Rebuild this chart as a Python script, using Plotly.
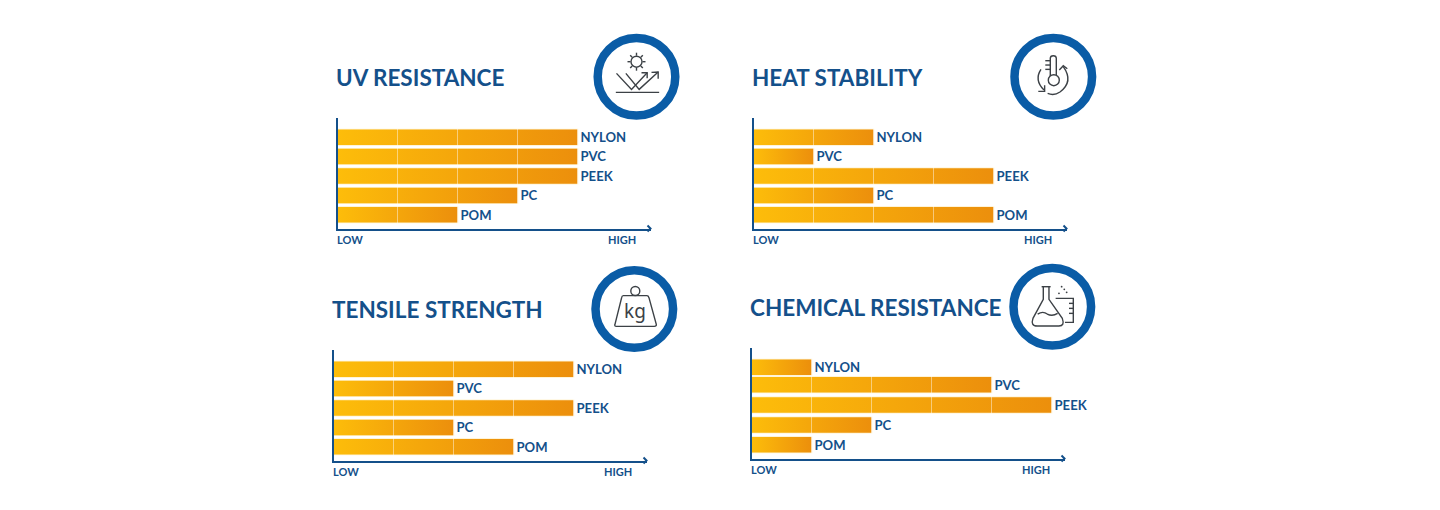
import re
import plotly.graph_objects as go

W, H = 1440, 510

# Values (1 unit = one segment between LOW and HIGH)
materials = ['NYLON', 'PVC', 'PEEK', 'PC', 'POM']
uv_resistance = [4, 4, 4, 3, 2]
heat_stability = [2, 1, 4, 2, 4]
tensile_strength = [4, 2, 4, 2, 3]
chemical_resistance = [1, 4, 5, 2, 1]
titles = ['UV RESISTANCE', 'HEAT STABILITY', 'TENSILE STRENGTH', 'CHEMICAL RESISTANCE']
axis_low = 'LOW'
axis_high = 'HIGH'

BLUE = '#14508A'
RING = '#0A5CA6'
ICON = '#3C4146'
FONT = 'Lato'

# Row spacing differs a little in the chemical panel
even_rows = [0, 1, 2, 3, 4]
chemical_rows = [0, 0.91, 1.95, 2.98, 4]

# Panel placement in pixels: axis origin x, baseline y, ring centre
panels = [
    dict(values=uv_resistance, rows=even_rows, x0=337.5, base=228.5, ring=(636.5, 76.7), title_y=77.5),
    dict(values=heat_stability, rows=even_rows, x0=753.5, base=228.5, ring=(1053.3, 76.7), title_y=77.5),
    dict(values=tensile_strength, rows=even_rows, x0=333.5, base=460.5, ring=(634.3, 309), title_y=309.5),
    dict(values=chemical_resistance, rows=chemical_rows, x0=751.5, base=458.5, ring=(1052.3, 306.7), title_y=307),
]

UNIT_PX = 60
PITCH_PX = 19.4
AXIS_W = 313
AXIS_H = 111


def px(x):
    return x / W


def py(y):
    return 1 - y / H


def icon_path(cx, cy, d):
    # d is written in units of a 3x zoom around the ring centre
    out = []
    for token in re.findall(r'[MLQCZ]|-?[\d.]+', d):
        if token.isalpha():
            out.append(token)
            k = 0
        else:
            val = float(token) / 3
            out.append(f'{px(cx + val):.5f}' if k % 2 == 0 else f'{py(cy + val):.5f}')
            k += 1
    return ' '.join(out)


def circle(cx, cy, r):
    return dict(type='circle', xref='paper', yref='paper', x0=px(cx - r), x1=px(cx + r),
                y0=py(cy + r), y1=py(cy - r))


icons = [
    # sun and reflected rays
    ['M -60 -10 L -15 38 L 32 -12', 'M -32 -10 L 8 38 L 65 -14', 'M 45 -13 L 65 -14 L 65 6',
     'M 15 -12 L 32 -12 L 32 5', 'M -62 47 L 68 47',
     'M 0 -72 L 0 -63', 'M 0 -27 L 0 -18', 'M -27 -45 L -18 -45', 'M 18 -45 L 27 -45',
     'M -19 -64 L -13 -58', 'M 13 -32 L 19 -26', 'M 19 -64 L 13 -58', 'M -13 -32 L -19 -26'],
    # thermometer with circular arrows
    ['M -9 0 L -9 -55 Q -9 -63 0 -63 Q 9 -63 9 -55 L 9 0',
     'M -24 -48 L -9 -48', 'M -24 -35 L -9 -35', 'M -24 -22 L -9 -22',
     'M -37 -22 Q -58 10 -28 40', 'M -45 44 L -26 44 L -26 26',
     'M 30 -30 Q 62 15 20 46 Q 2 58 -17 50', 'M 18 -20 L 30 -33 L 42 -24'],
    # weight
    ['M -33 -40 L 38 -40 Q 42 -40 44 -34 L 66 46 Q 67 52 60 52 L -54 52 Q -60 52 -58 46 L -38 -34 Q -37 -40 -33 -40 Z'],
    # flask and beaker
    ['M -32 -60 L -5 -60', 'M -27 -60 L -27 -22 L -58 35 Q -66 58 -45 58 L 20 58 Q 38 58 30 35 L -10 -22 L -10 -60',
     'M -44 22 Q -28 12 -15 22 Q 0 30 16 20',
     'M 10 -25 L 63 -25 L 63 47 L 38 47', 'M 50 -10 L 63 -10', 'M 50 5 L 63 5', 'M 50 20 L 63 20'],
]
icon_dots = [
    [], [],
    [],
    [(28, -60), (43, -43), (20, -40), (36, -52)],
]

data = []
annotations = []
shapes = []

for n, p in enumerate(panels, start=1):
    xname = 'x' if n == 1 else f'x{n}'
    yname = 'y' if n == 1 else f'y{n}'
    values = p['values']
    rows = p['rows']

    data.append(go.Bar(
        x=values, y=rows, orientation='h',
        xaxis=xname, yaxis=yname, width=0.8,
        marker=dict(color='#F6A908', line=dict(color='#FFF1CC', width=1.5)),
        text=materials, textposition='outside', cliponaxis=False,
        textfont=dict(family=FONT, size=13.5, color=BLUE, weight=700),
        hoverinfo='skip', showlegend=False,
    ))
    # Gradient fill over each bar, spanning that bar's own length
    for r, v in zip(rows, values):
        data.append(go.Scatter(
            x=[0, v, v, 0, 0], y=[r - 0.4, r - 0.4, r + 0.4, r + 0.4, r - 0.4],
            xaxis=xname, yaxis=yname, mode='lines', line=dict(width=0),
            fill='toself',
            fillgradient=dict(type='horizontal', colorscale=[[0, '#FDBD0A'], [1, '#EC8F0C']]),
            hoverinfo='skip', showlegend=False,
        ))

    x0, base = p['x0'], p['base']
    top = base - AXIS_H
    first_bar = base - 91.3
    axis_style = dict(showline=True, linecolor=BLUE, linewidth=2, showgrid=False, zeroline=False,
                      showticklabels=False, ticks='', fixedrange=True)
    layout_x = dict(domain=[px(x0), px(x0 + AXIS_W)], range=[0, AXIS_W / UNIT_PX],
                    anchor=yname, **axis_style)
    layout_y = dict(domain=[py(base), py(top)],
                    range=[(base - first_bar) / PITCH_PX, (top - first_bar) / PITCH_PX],
                    anchor=xname, **axis_style)
    p['xaxis'] = layout_x
    p['yaxis'] = layout_y

    # Thin pale dividers at each unit
    for u in range(1, 6):
        shapes.append(dict(type='line', xref=xname, yref=f'{yname} domain', x0=u, x1=u, y0=0.02, y1=0.9,
                           line=dict(color='rgba(255,255,255,0.45)', width=1), layer='above'))
    # Arrowhead on the x axis
    tip = x0 + AXIS_W
    shapes.append(dict(type='path', xref='paper', yref='paper',
                       path=icon_path(tip, base, 'M -9 -9 L 0 0 L -9 9'),
                       line=dict(color=BLUE, width=2)))

    annotations.append(dict(text=f'<b>{titles[n - 1]}</b>', xref='paper', yref='paper',
                            x=px(x0 - 3.5), y=py(p['title_y']), xanchor='left', yanchor='middle', showarrow=False,
                            font=dict(family=FONT, size=22.5, color=BLUE)))
    for label, lx, anchor in [(axis_low, x0 - 3, 'left'), (axis_high, x0 + 300, 'right')]:
        annotations.append(dict(text=label, xref='paper', yref='paper', x=px(lx), y=py(base + 11),
                                xanchor=anchor, yanchor='middle', showarrow=False,
                                font=dict(family=FONT, size=11, color=BLUE, weight=700)))

    # Ring and icon
    cx, cy = p['ring']
    shapes.append(dict(circle(cx, cy, 38.8), fillcolor='white', line=dict(color=RING, width=8.5)))
    for d in icons[n - 1]:
        shapes.append(dict(type='path', xref='paper', yref='paper', path=icon_path(cx, cy, d),
                           line=dict(color=ICON, width=1.4)))
    for dx, dy in icon_dots[n - 1]:
        shapes.append(dict(circle(cx + dx / 3, cy + dy / 3, 0.9), fillcolor=ICON, line=dict(width=0)))

# Small circles that belong to the icons
for idx, (dx, dy, r) in [(0, (0, -45 / 3, 5.5)), (1, (0.5, 3.5, 5.5)), (2, (1, -18, 4.5))]:
    cx, cy = panels[idx]['ring']
    shapes.append(dict(circle(cx + dx, cy + dy, r), fillcolor='white', line=dict(color=ICON, width=1.4)))

cx, cy = panels[2]['ring']
annotations.append(dict(text='kg', xref='paper', yref='paper', x=px(cx + 0.5), y=py(cy + 2), showarrow=False,
                        xanchor='center', yanchor='middle',
                        font=dict(family='Noto Sans', size=19, color=ICON)))

fig = go.Figure(data=data)
for n, p in enumerate(panels, start=1):
    suffix = '' if n == 1 else str(n)
    fig.update_layout({f'xaxis{suffix}': p['xaxis'], f'yaxis{suffix}': p['yaxis']})

fig.update_layout(
    width=W, height=H,
    margin=dict(l=0, r=0, t=0, b=0),
    paper_bgcolor='white', plot_bgcolor='rgba(0,0,0,0)',
    showlegend=False,
    annotations=annotations,
    shapes=shapes,
)

# The page's default body margin would push the figure 8px off
fig.write_html("out.html", config=dict(displayModeBar=False),
               post_script="document.body.style.margin='0';document.body.style.overflow='hidden';")
